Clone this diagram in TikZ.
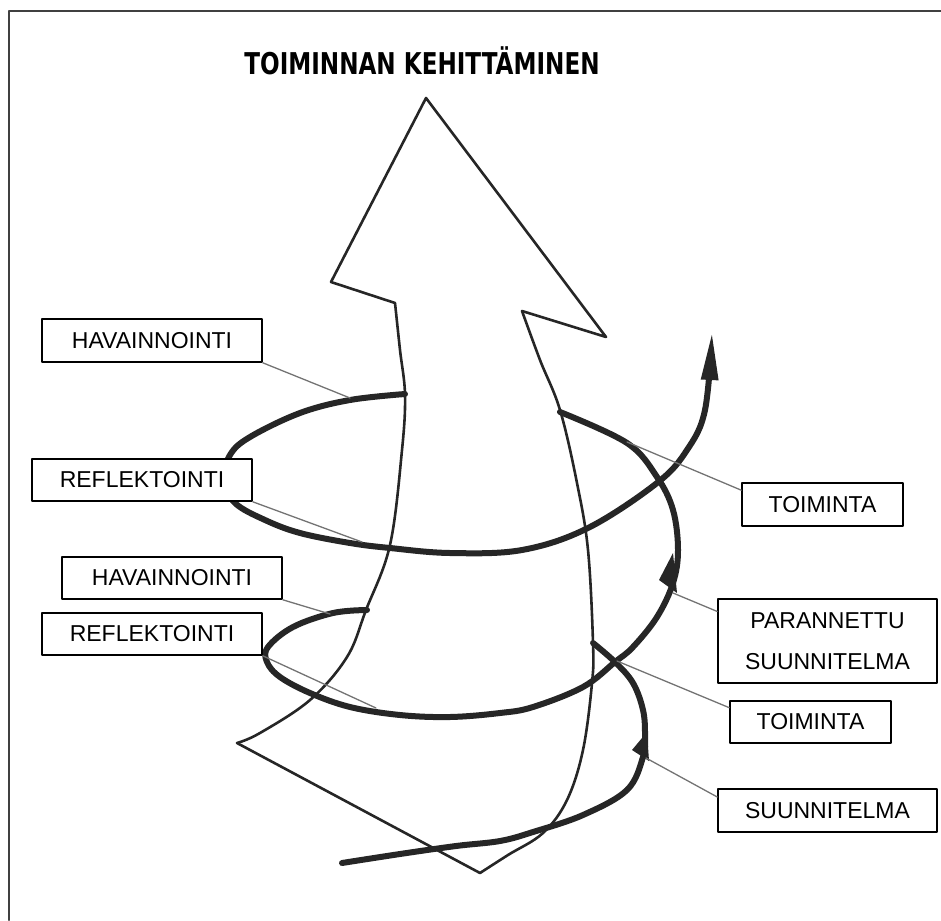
\documentclass[tikz,border=0pt]{standalone}
\usepackage{fontspec}
\setmainfont{Liberation Sans}
\newfontfamily\titlefont[FakeStretch=0.77]{DejaVu Sans Bold}
\usetikzlibrary{arrows.meta}

\begin{document}
\begin{tikzpicture}[x=1pt,y=-1pt,line cap=round,line join=round,
  ribbon/.style={line width=2.6pt,black!85},
  spiral/.style={line width=6pt,black!85},
  leader/.style={line width=1.3pt,black!55},
  namebox/.style={draw,line width=1.6pt,fill=white,inner sep=0pt,
    font=\fontsize{23}{41}\selectfont,align=center}]
  \useasboundingbox (0,0) rectangle (941,920);
  \draw[line width=2pt,black!75] (9,920) -- (9,11) -- (941,11);
  \node[font=\titlefont\fontsize{30}{36}\selectfont,anchor=base] (title) at (422,75) {TOIMINNAN KEHITTÄMINEN};
  % the big arrow
  \coordinate (T) at (426,98);
  \coordinate (Lo) at (331,282);
  \coordinate (Li) at (395,303);
  \coordinate (Ro) at (606,337);
  \coordinate (Ri) at (522,311);
  \coordinate (BL) at (237,743);
  \coordinate (BR) at (480,873);
  \draw[ribbon] (Li) -- (Lo) -- (T) -- (Ro) -- (Ri);
  \draw[ribbon] plot[smooth,tension=0.6] coordinates {(Li) (400,350) (405,395) (402,450) (390,545)
    (366,610) (347,657) (310,700) (260,733) (BL)};
  \draw[ribbon] (BL) -- (BR);
  \draw[ribbon] plot[smooth,tension=0.6] coordinates {(Ri) (540,360) (560,410) (577,483) (588,550)
    (593,643) (592,683) (583,750) (567,800) (543,833) (508,855) (BR)};
  % spiral
  \draw[spiral] plot[smooth,tension=0.6] coordinates {(342,863) (400,854) (456,846) (500,841) (533,832)
    (583,815) (627,790) (643,757) (645,735) (643,710) (633,683) (615,662) (593,643)};
  \draw[spiral] plot[smooth,tension=0.6] coordinates {(367,610) (333,613) (293,627) (268,647) (267,662)
    (280,677) (310,693) (350,707) (400,715) (450,717) (500,713) (533,707) (583,687) (615,662) (633,647)
    (657,617) (673,583) (678,550) (673,510) (657,477) (627,443) (560,412)};
  \draw[spiral,-{Triangle[length=48pt,width=16pt]}] plot[smooth,tension=0.6] coordinates {(405,394)
    (350,400) (300,413) (250,437) (230,455) (224,480) (235,503) (265,520) (300,533) (350,543) (390,548)
    (450,553) (522,550) (588,528) (657,483) (687,450) (705,410) (712,332)};
  \fill[black!85] (673,553) -- (659,580) -- (677,593) -- cycle;
  \fill[black!85] (647,732) -- (632,750) -- (649,761) -- cycle;
  % points the labels point at
  \coordinate (p1) at (350,398);
  \coordinate (p2) at (362,542);
  \coordinate (p3) at (330,614);
  \coordinate (p4) at (376,708);
  \coordinate (p5) at (627,442);
  \coordinate (p6) at (673,593);
  \coordinate (p7) at (617,661);
  \coordinate (p8) at (646,758);
  % labels
  \node[namebox,minimum width=220pt,minimum height=43pt] (hav1) at (152,340.5) {\raisebox{-3pt}{HAVAINNOINTI}};
  \node[namebox,minimum width=220pt,minimum height=42pt] (ref1) at (142,480) {\raisebox{-3pt}{REFLEKTOINTI}};
  \node[namebox,minimum width=220pt,minimum height=42pt] (hav2) at (172,578) {\raisebox{-3pt}{HAVAINNOINTI}};
  \node[namebox,minimum width=220pt,minimum height=42pt] (ref2) at (152,634) {\raisebox{-3pt}{REFLEKTOINTI}};
  \node[namebox,minimum width=161pt,minimum height=43pt] (toi1) at (822.5,504.5) {\raisebox{-3pt}{TOIMINTA}};
  \node[namebox,minimum width=219pt,minimum height=84pt] (par) at (827.5,641) {PARANNETTU\\SUUNNITELMA};
  \node[namebox,minimum width=161pt,minimum height=42pt] (toi2) at (810.5,722) {\raisebox{-3pt}{TOIMINTA}};
  \node[namebox,minimum width=219pt,minimum height=43pt] (suu) at (827.5,810.5) {\raisebox{-3pt}{SUUNNITELMA}};
  \draw[leader] (hav1.south east) -- (p1);
  \draw[leader] (ref1.south east) -- (p2);
  \draw[leader] (hav2.south east) -- (p3);
  \draw[leader] (ref2.south east) -- (p4);
  \draw[leader] (toi1.170) -- (p5);
  \draw[leader] (par.165) -- (p6);
  \draw[leader] (toi2.170) -- (p7);
  \draw[leader] (suu.173) -- (p8);
\end{tikzpicture}
\end{document}
